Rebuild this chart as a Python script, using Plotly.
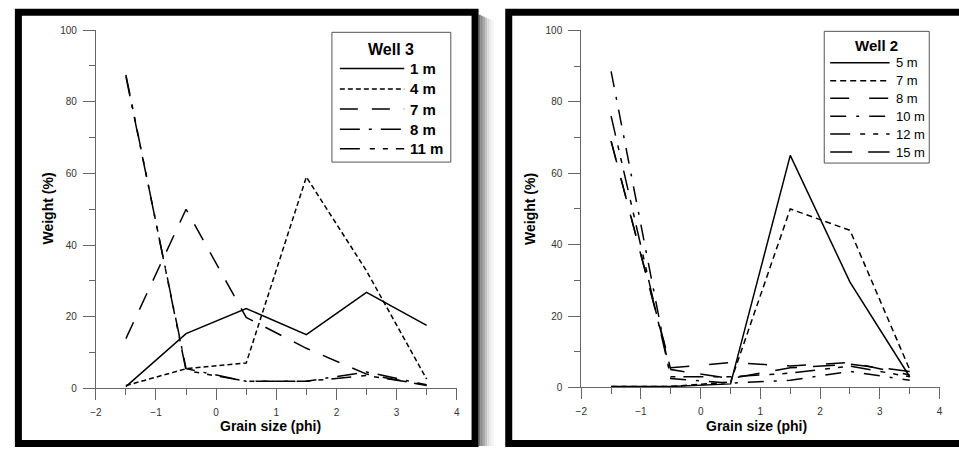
import plotly.graph_objects as go

W, H = 959, 452

# ---------------- data ----------------
grain_phi = [-1.5, -0.5, 0.5, 1.5, 2.5, 3.5]

well3_names = ["1 m", "4 m", "7 m", "8 m", "11 m"]
w3_1m = [0.5, 15.3, 22.3, 15.0, 26.8, 17.6]
w3_4m = [0.8, 5.5, 7.1, 59.0, 32.8, 2.6]
w3_7m = [13.9, 50.0, 19.8, 11.2, 4.0, 0.8]
w3_8m = [87.0, 5.5, 2.0, 2.0, 4.6, 1.0]
w3_11m = [87.5, 5.0, 2.0, 2.0, 3.6, 1.0]

well2_names = ["5 m", "7 m", "8 m", "10 m", "12 m", "15 m"]
w2_5m = [0.3, 0.3, 1.0, 65.0, 29.5, 3.0]
w2_7m = [0.3, 0.3, 1.5, 50.0, 44.0, 5.0]
w2_8m = [69.0, 5.5, 7.0, 6.0, 7.0, 3.5]
w2_10m = [88.5, 2.5, 1.2, 2.0, 4.5, 2.0]
w2_12m = [76.0, 3.0, 3.0, 4.0, 6.0, 3.0]
w2_15m = [69.0, 5.0, 2.5, 5.5, 6.5, 4.5]

x_ticks = [-2, -1, 0, 1, 2, 3, 4]
y_ticks = [0, 20, 40, 60, 80, 100]

# ---------------- styles ----------------
w3_dash = ["solid", "5px,3px", "18px,14px", "20px,9px,3px,9px", "20px,10px,5px,8px,5px,8px"]
w2_dash = ["solid", "6px,4px", "19px,20px", "16px,10px,3px,10px", "20px,10px,5px,8px,5px,8px", "22px,16px"]

FONT = "Liberation Sans, Arial, sans-serif"


def px(x):
    return x / W


def py(y):
    return 1 - y / H


fig = go.Figure()

w3_series = [w3_1m, w3_4m, w3_7m, w3_8m, w3_11m]
w2_series = [w2_5m, w2_7m, w2_8m, w2_10m, w2_12m, w2_15m]

for name, vals, d in zip(well3_names, w3_series, w3_dash):
    fig.add_trace(go.Scatter(x=grain_phi, y=vals, mode="lines", name=name,
                             line=dict(color="black", width=1.5, dash=d),
                             xaxis="x", yaxis="y", showlegend=False))
for name, vals, d in zip(well2_names, w2_series, w2_dash):
    fig.add_trace(go.Scatter(x=grain_phi, y=vals, mode="lines", name=name,
                             line=dict(color="black", width=1.5, dash=d),
                             xaxis="x2", yaxis="y2", showlegend=False))

axcol = "#666666"
tickfont = dict(family=FONT, size=10, color="#333333")


def xax(domain, anchor):
    return dict(domain=domain, anchor=anchor, range=[-2, 4], tickvals=x_ticks,
                ticks="outside", ticklen=11, tickwidth=1, tickcolor=axcol,
                showline=True, linecolor=axcol, linewidth=1, showgrid=False,
                zeroline=False, tickfont=tickfont, ticklabelstandoff=4,
                minor=dict(dtick=0.5, tick0=-2, ticks="outside", ticklen=6,
                           tickwidth=1, tickcolor=axcol, showgrid=False))


def yax(domain, anchor):
    return dict(domain=domain, anchor=anchor, range=[0, 100], tickvals=y_ticks,
                ticks="outside", ticklen=12, tickwidth=1, tickcolor=axcol,
                showline=True, linecolor=axcol, linewidth=1, showgrid=False,
                zeroline=False, tickfont=tickfont, ticklabelstandoff=4,
                minor=dict(dtick=10, tick0=0, ticks="outside", ticklen=6,
                           tickwidth=1, tickcolor=axcol, showgrid=False))


shapes = []
annotations = []

# drop shadow right of the left frame
shadow_cols = ["#6f6f6f", "#8c8c8c", "#a8a8a8", "#c2c2c2", "#d8d8d8", "#e8e8e8", "#f4f4f4"]
for i, c in enumerate(shadow_cols):
    shapes.append(dict(type="rect", xref="paper", yref="paper",
                       x0=px(477 + i * 2.2), x1=px(479.2 + i * 2.2),
                       y0=py(452), y1=py(10 + i), line=dict(width=0), fillcolor=c,
                       layer="below"))

# frames
shapes.append(dict(type="rect", xref="paper", yref="paper", x0=px(12.5), x1=px(473.5),
                   y0=py(449.5), y1=py(7.5), line=dict(color="black", width=7)))
shapes.append(dict(type="rect", xref="paper", yref="paper", x0=px(507.5), x1=px(966),
                   y0=py(449.5), y1=py(7.5), line=dict(color="black", width=7)))


def legend(box, title, title_xy, title_size, names, dashes, ys, lx0, lx1, tx, tsize, bold):
    shapes.append(dict(type="rect", xref="paper", yref="paper",
                       x0=px(box[0]), x1=px(box[1]), y0=py(box[3]), y1=py(box[2]),
                       line=dict(color="#555555", width=1), fillcolor="white"))
    annotations.append(dict(text="<b>%s</b>" % title, xref="paper", yref="paper",
                            x=px(title_xy[0]), y=py(title_xy[1]), xanchor="center",
                            yanchor="middle", showarrow=False,
                            font=dict(family=FONT, size=title_size, color="black")))
    for n, d, yy in zip(names, dashes, ys):
        shapes.append(dict(type="line", xref="paper", yref="paper",
                           x0=px(lx0), x1=px(lx1), y0=py(yy), y1=py(yy),
                           line=dict(color="black", width=1.5, dash=d)))
        annotations.append(dict(text=("<b>%s</b>" % n) if bold else n, xref="paper",
                                yref="paper", x=px(tx), y=py(yy), xanchor="left",
                                yanchor="middle", showarrow=False,
                                font=dict(family=FONT, size=tsize, color="black")))


legend((329, 449, 28, 161), "Well 3", (389, 45.5), 16, well3_names, w3_dash,
       [65, 86, 106.7, 127.3, 147.3], 337, 402, 406, 15, True)
legend((826, 932, 27, 162), "Well 2", (879, 41.7), 15, well2_names, w2_dash,
       [59.3, 77.7, 95.7, 114, 132.3, 150.7], 832, 892, 896, 13, False)

# axis titles
for xx in (42, 529):
    annotations.append(dict(text="<b>Weight (%)</b>", xref="paper", yref="paper",
                            x=px(xx), y=py(209), textangle=-90, showarrow=False,
                            xanchor="center", yanchor="middle",
                            font=dict(family=FONT, size=14, color="black")))
for xx in (267.5, 757.5):
    annotations.append(dict(text="<b>Grain size (phi)</b>", xref="paper", yref="paper",
                            x=px(xx), y=py(432), showarrow=False,
                            xanchor="center", yanchor="middle",
                            font=dict(family=FONT, size=14, color="black")))

fig.update_layout(
    width=W, height=H, margin=dict(l=0, r=0, t=0, b=0),
    paper_bgcolor="white", plot_bgcolor="white",
    showlegend=False,
    xaxis=xax([px(90.7), px(455)], "y"),
    yaxis=yax([py(393), py(25.7)], "x"),
    xaxis2=xax([px(580.7), px(942.4)], "y2"),
    yaxis2=yax([py(392), py(26)], "x2"),
    shapes=shapes,
    annotations=annotations,
    font=dict(family=FONT),
)

fig.write_html("out.html", config={"displayModeBar": False, "staticPlot": True},
               post_script="document.body.style.margin='0';document.body.style.overflow='hidden';")
